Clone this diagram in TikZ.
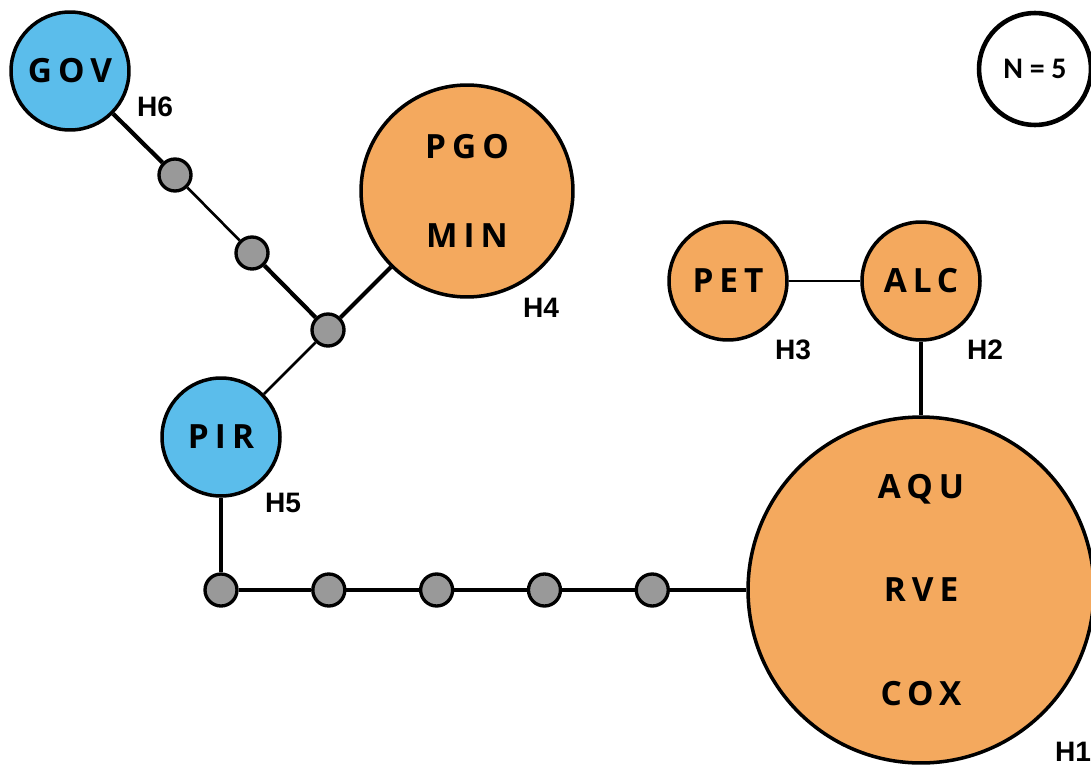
\documentclass[tikz,border=0pt]{standalone}
\usepackage{fontspec}
\newfontfamily\hapfont[LetterSpace=18]{Open Sans}
\newfontfamily\labfont{Liberation Sans}
\newfontfamily\keyfont{Carlito}
\usetikzlibrary{positioning}
\definecolor{popblue}{HTML}{5BBDEB}
\definecolor{poporange}{HTML}{F4A95E}
\definecolor{stepgray}{HTML}{999999}
\tikzset {
  hap node/.style = {
    draw = black,
    circle,
    line width = 2pt,
    inner sep = 0,
    align = center,
    font = \hapfont\bfseries\fontsize{19}{22}\selectfont
  },
  % haplotypes of the blue populations
  blue hap/.style = {
    hap node,
    fill = popblue
  },
  % haplotypes of the orange populations
  orange hap/.style = {
    hap node,
    fill = poporange
  },
  % missing intermediate haplotype
  median/.style = {
    draw = black,
    circle,
    fill = stepgray,
    line width = 1.9pt,
    minimum size = .64cm,
    inner sep = 0
  },
  hap label/.style = {
    font = \labfont\bfseries\fontsize{16}{19}\selectfont
  },
  node distance = 1.45cm
}
\tikzset {
  thick link/.style = {
    line width = 2.4pt
  },
  mid link/.style = {
    line width = 1.8pt
  },
  thin link/.style = {
    line width = 1.5pt
  }
}
\begin{document}
\begin{tikzpicture}[x=0.02cm, y=-0.02cm]
    \useasboundingbox (0,0) rectangle (1091,767);

    \node[blue hap, minimum size=2.36cm] (gov) at (70,71) {GOV};
    \node[hap label] (gov lab) at (155,107) {H6};

    \node[median] (m1) at (175,175) {};
    \node[median] (m2) at (252,253) {};
    \node[median] (m3) at (328,330) {};

    \node[orange hap, minimum size=4.24cm] (h4) at (467,191) {PGO\\[1.0cm]MIN};
    \node[hap label] (h4 lab) at (541,308) {H4};

    \node[orange hap, minimum size=2.36cm] (pet) at (728,281) {PET};
    \node[hap label] (pet lab) at (793,350) {H3};

    \node[orange hap, minimum size=2.36cm] (alc) at (921,281) {ALC};
    \node[hap label] (alc lab) at (985,350) {H2};

    \node[blue hap, minimum size=2.36cm] (pir) at (221,437) {PIR};
    \node[hap label] (pir lab) at (283,503) {H5};

    \node[median] (c1) at (221,590) {};
    \node[median] (c2) [right=of c1] {};
    \node[median] (c3) [right=of c2] {};
    \node[median] (c4) [right=of c3] {};
    \node[median] (c5) [right=of c4] {};

    \node[orange hap, minimum size=6.92cm] (h1) at (921,590) {AQU\\[1.3cm]RVE\\[1.3cm]COX};
    \node[hap label] (h1 lab) at (1073,752) {H1};

    % size key
    \node[draw=black, circle, line width=2.6pt, minimum size=2.24cm, inner sep=0,
      font=\keyfont\bfseries\fontsize{17}{20}\selectfont] (key) at (1035,69) {N = 5};

    % upper branch
    \draw[thick link] (gov) -- (m1);
    \draw[thin link] (m1) -- (m2);
    \draw[thick link] (m2) -- (m3);
    \draw[thick link] (m3) -- (h4);
    \draw[thin link] (m3) -- (pir);

    % lower branch
    \draw[mid link] (pir) -- (c1);
    \draw[thick link] (c1) -- (c2);
    \draw[thick link] (c2) -- (c3);
    \draw[thick link] (c3) -- (c4);
    \draw[thick link] (c4) -- (c5);
    \draw[thick link] (c5) -- (h1);

    % right branch
    \draw[thin link] (pet) -- (alc);
    \draw[thick link] (alc) -- (h1);
\end{tikzpicture}
\end{document}
